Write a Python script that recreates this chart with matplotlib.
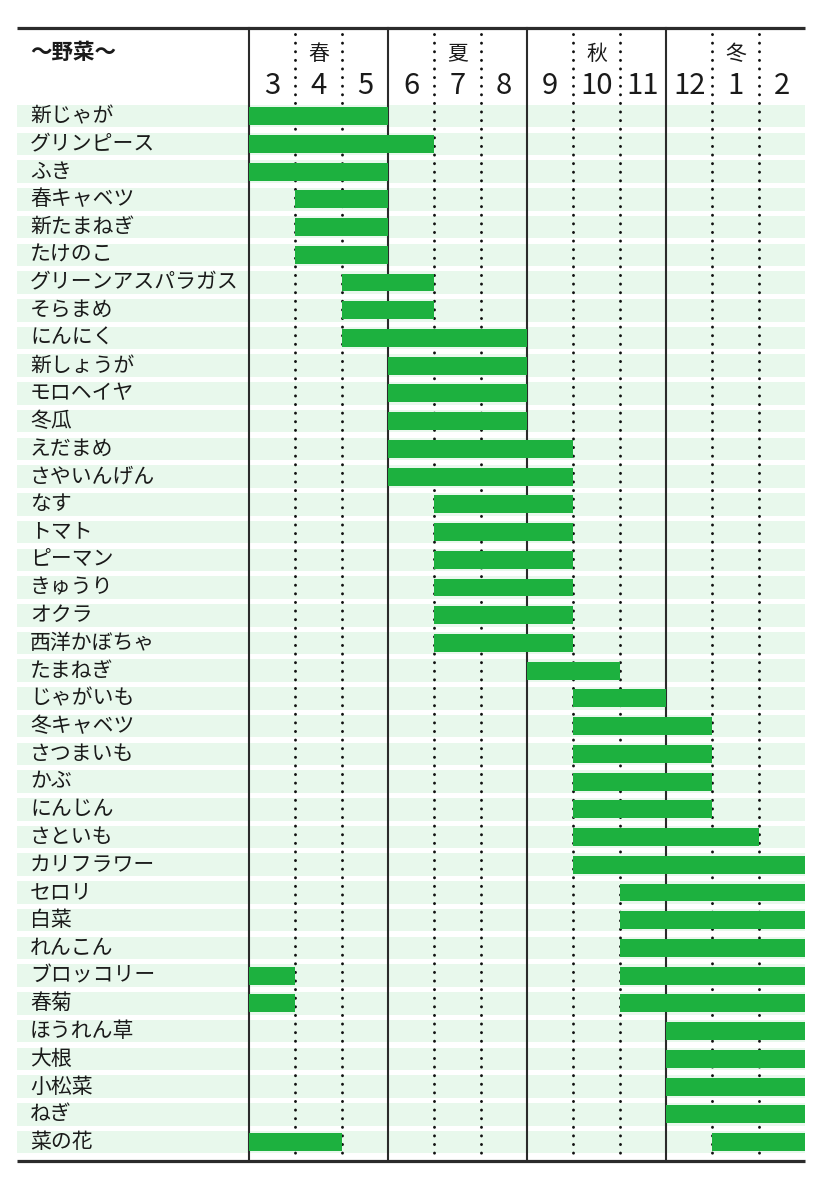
import matplotlib
matplotlib.use("Agg")
import matplotlib.pyplot as plt

plt.rcParams['font.family'] = ['Noto Sans CJK JP', 'DejaVu Sans']

# ---- data ----
vegetables = ["新じゃが", "グリンピース", "ふき", "春キャベツ", "新たまねぎ", "たけのこ",
              "グリーンアスパラガス", "そらまめ", "にんにく", "新しょうが", "モロヘイヤ", "冬瓜",
              "えだまめ", "さやいんげん", "なす", "トマト", "ピーマン", "きゅうり", "オクラ",
              "西洋かぼちゃ", "たまねぎ", "じゃがいも", "冬キャベツ", "さつまいも", "かぶ",
              "にんじん", "さといも", "カリフラワー", "セロリ", "白菜", "れんこん",
              "ブロッコリー", "春菊", "ほうれん草", "大根", "小松菜", "ねぎ", "菜の花"]
# season periods: list of (first month index, months count); index 0 = March ... 11 = February
periods = [
    [(0, 3)], [(0, 4)], [(0, 3)], [(1, 2)], [(1, 2)], [(1, 2)],
    [(2, 2)], [(2, 2)], [(2, 4)], [(3, 3)], [(3, 3)], [(3, 3)],
    [(3, 4)], [(3, 4)], [(4, 3)], [(4, 3)], [(4, 3)], [(4, 3)], [(4, 3)],
    [(4, 3)], [(6, 2)], [(7, 2)], [(7, 3)], [(7, 3)], [(7, 3)],
    [(7, 3)], [(7, 4)], [(7, 5)], [(8, 4)], [(8, 4)], [(8, 4)],
    [(0, 1), (8, 4)], [(0, 1), (8, 4)], [(9, 3)], [(9, 3)], [(9, 3)], [(9, 3)],
    [(0, 2), (10, 2)],
]
month_labels = ["3", "4", "5", "6", "7", "8", "9", "10", "11", "12", "1", "2"]
seasons = ["春", "夏", "秋", "冬"]
header = "〜野菜〜"

BAR = "#1db13f"
BAND = "#e8f8ec"
LINE = "#2b2b2b"
TEXT = "#1a1a1a"

W, H = 827, 1186
fig = plt.figure(figsize=(W / 100, H / 100), dpi=100)
px_left, px_right, px_top, px_bottom = 17, 805, 28, 1161
ax = fig.add_axes([px_left / W, 1 - px_bottom / H, (px_right - px_left) / W, (px_bottom - px_top) / H])

month_px = (px_right - 249) / 12.0
x_min = -(249 - px_left) / month_px
pitch = 27.05
y_top = -(114 - px_top) / pitch
y_bot = 37 + (px_bottom - 1142.5) / pitch
ax.set_xlim(x_min, 12)
ax.set_ylim(y_bot, y_top)
ax.axis("off")

n = len(vegetables)
rows = list(range(n))

# background bands
ax.barh(rows, [12 - x_min] * n, left=x_min, height=22 / pitch, color=BAND, zorder=1)

# season bars (drawn above the grid lines)
for r, plist in zip(rows, periods):
    for start, length in plist:
        ax.barh(r, length, left=start, height=17.5 / pitch, color=BAR, zorder=5)

# labels
lab_x = x_min + (30 - px_left) / month_px
for r, name in zip(rows, vegetables):
    ax.text(lab_x, r, name, fontsize=15, va="center", ha="left", color=TEXT, zorder=3)

# vertical lines
y_dot_top = y_top + 6 / pitch
for i in range(12):
    if i % 3 == 0:
        ax.plot([i, i], [y_top, y_bot], color=LINE, lw=1.5, zorder=4, clip_on=False)
    else:
        ax.plot([i, i], [y_dot_top, y_bot], color="#111111", lw=2.1, zorder=4,
                linestyle=(0, (0.05, 2.9)), dash_capstyle="round", clip_on=False)

# horizontal rules
ax.plot([x_min, 12], [y_top, y_top], color=LINE, lw=2.3, zorder=6, clip_on=False, solid_capstyle="butt")
ax.plot([x_min, 12], [y_bot, y_bot], color=LINE, lw=2.3, zorder=6, clip_on=False, solid_capstyle="butt")

# header
y_season = y_top + (53 - px_top) / pitch
y_month = y_top + (85 - px_top) / pitch
ax.text(lab_x, y_top + (52 - px_top) / pitch, header, fontsize=15.5, fontweight="bold",
        va="center", ha="left", color=TEXT)
for k, s in enumerate(seasons):
    ax.text(3 * k + 1.5, y_season, s, fontsize=15, va="center", ha="center", color=TEXT)
for i, m in enumerate(month_labels):
    ax.text(i + 0.5, y_month, m, fontsize=21, va="center", ha="center", color=TEXT)

fig.savefig("out.png", dpi=100, facecolor="white")
